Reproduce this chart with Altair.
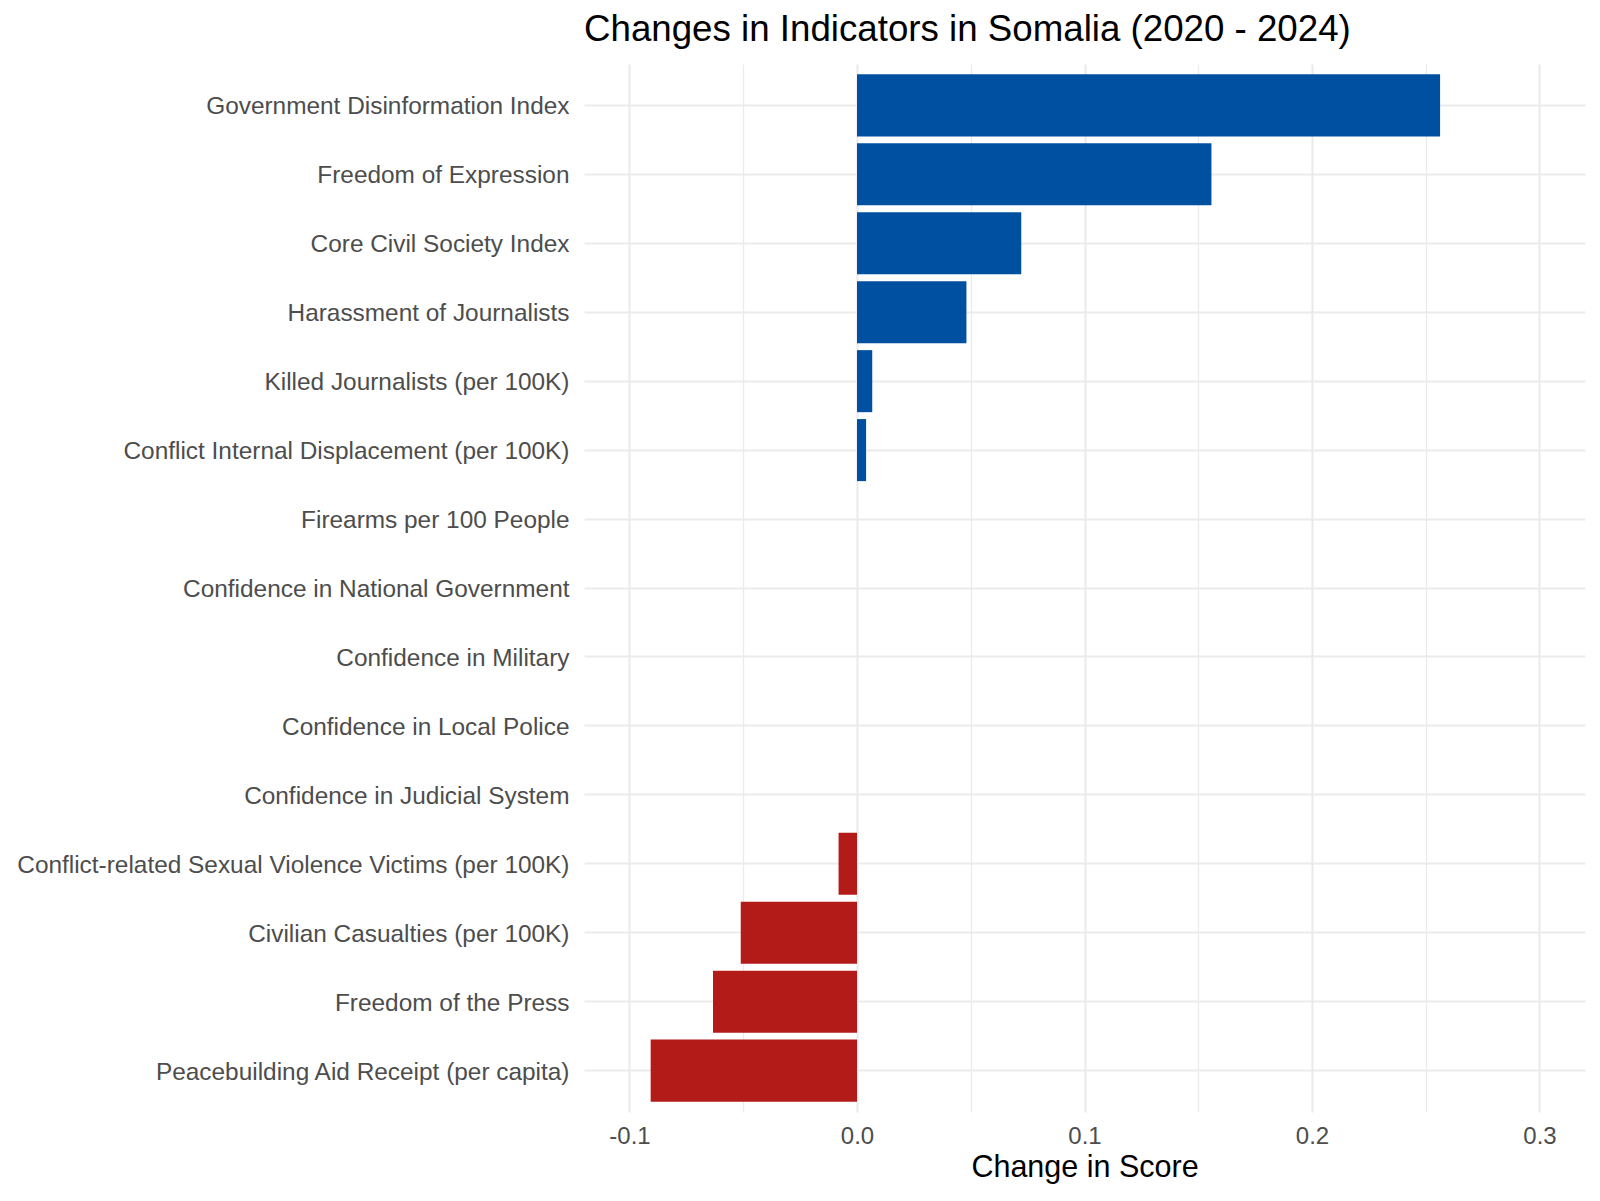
import altair as alt
import pandas as pd

indicators = [
    "Government Disinformation Index",
    "Freedom of Expression",
    "Core Civil Society Index",
    "Harassment of Journalists",
    "Killed Journalists (per 100K)",
    "Conflict Internal Displacement (per 100K)",
    "Firearms per 100 People",
    "Confidence in National Government",
    "Confidence in Military",
    "Confidence in Local Police",
    "Confidence in Judicial System",
    "Conflict-related Sexual Violence Victims (per 100K)",
    "Civilian Casualties (per 100K)",
    "Freedom of the Press",
    "Peacebuilding Aid Receipt (per capita)",
]
changes = [0.2563, 0.1558, 0.0722, 0.0481, 0.0067, 0.0040, 0.0, 0.0, 0.0, 0.0, 0.0,
           -0.0081, -0.0511, -0.0633, -0.0907]
directions = ["Positive" if v > 0 else ("Negative" if v < 0 else "None") for v in changes]

x_ticks = [-0.1, -0.05, 0.0, 0.05, 0.1, 0.15, 0.2, 0.25, 0.3]

df = pd.DataFrame({"Indicator": indicators, "Change": changes, "Direction": directions})

FONT = "Liberation Sans"
major_test = "abs(round(datum.value*100)) % 10 == 0"

chart = alt.Chart(df).mark_bar().encode(
    x=alt.X(
        "Change:Q",
        scale=alt.Scale(domain=[-0.12, 0.32], nice=False, zero=False),
        axis=alt.Axis(
            values=x_ticks,
            labelExpr=major_test + " ? (datum.value < -0.0001 ? '-' : '') + format(abs(datum.value), '.1f') : ''",
            title="Change in Score",
            grid=True,
            gridColor="#EBEBEB",
            gridWidth={"condition": {"test": major_test, "value": 2.2}, "value": 1.3},
            ticks=False,
            tickSize=0,
            domain=False,
            labelFont=FONT,
            labelFontSize=24,
            labelColor="#4D4D4D",
            labelPadding=31,
            labelBaseline="alphabetic",
            labelFlush=False,
            titleFont=FONT,
            titleFontSize=30.5,
            titleFontWeight="normal",
            titleColor="black",
            titleBaseline="alphabetic",
            titleY=64,
        ),
    ),
    y=alt.Y(
        "Indicator:N",
        sort=indicators,
        scale=alt.Scale(paddingInner=0.1, paddingOuter=0.15),
        axis=alt.Axis(
            title=None,
            ticks=False,
            tickSize=0,
            domain=False,
            grid=True,
            gridColor="#EBEBEB",
            gridWidth=2.2,
            labelFont=FONT,
            labelFontSize=24.4,
            labelColor="#4D4D4D",
            labelPadding=15,
            labelOffset=2,
            labelLimit=1000,
        ),
    ),
    color=alt.Color(
        "Direction:N",
        scale=alt.Scale(domain=["Positive", "Negative", "None"],
                        range=["#0050A1", "#B31B18", "#0050A1"]),
        legend=None,
    ),
).properties(
    width=1001,
    height=1048,
    title=alt.TitleParams(
        "Changes in Indicators in Somalia (2020 - 2024)",
        anchor="start",
        frame="group",
        font=FONT,
        fontSize=36.7,
        fontWeight="normal",
        color="black",
        baseline="alphabetic",
        offset=22,
        dy=36,
    ),
    padding={"left": 576, "top": 56, "right": 7, "bottom": 81},
    autosize=alt.AutoSizeParams(type="none"),
).configure_view(stroke=None)

chart.save("out.html", embed_options={"renderer": "svg", "actions": False})
